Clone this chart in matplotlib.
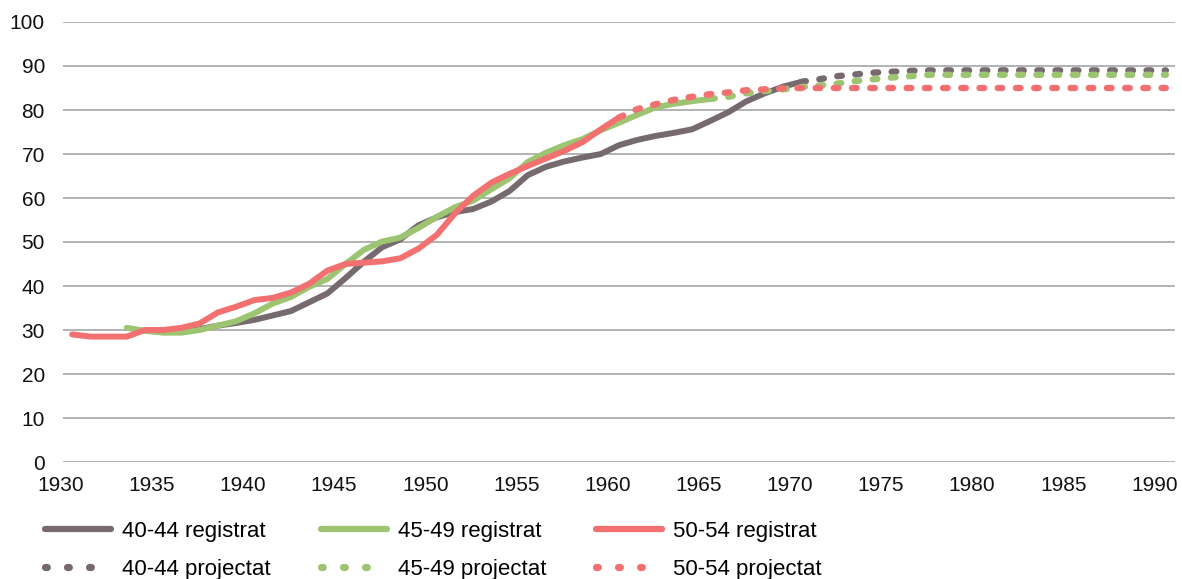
import matplotlib
matplotlib.use("Agg")
import matplotlib.pyplot as plt
import matplotlib.transforms as mtransforms
from matplotlib.lines import Line2D

plt.rcParams['font.family'] = ['Liberation Sans', 'DejaVu Sans']

# 40-44
years_4044_reg = list(range(1935, 1971))
vals_4044_reg = [29.6, 29.8, 30.2, 31.0, 31.6, 32.3, 33.3, 34.3, 36.3, 38.3,
                 41.8, 45.5, 48.8, 50.6, 53.8, 55.6, 56.8, 57.5, 59.2, 61.6,
                 65.2, 67.1, 68.3, 69.2, 70.0, 72.0, 73.2, 74.1, 74.8, 75.6,
                 77.5, 79.5, 82.0, 83.8, 85.3, 86.4]
years_4044_proj = list(range(1970, 1991))
vals_4044_proj = [86.4, 87.0, 87.7, 88.1, 88.5, 88.7, 88.9] + [89.0] * 14

# 45-49
years_4549_reg = list(range(1933, 1966))
vals_4549_reg = [30.5, 29.8, 29.4, 29.4, 30.0, 31.0, 32.0, 33.8, 36.0, 37.5,
                 39.8, 41.6, 45.0, 48.2, 50.1, 51.0, 53.2, 55.7, 57.9, 59.4,
                 62.0, 64.5, 68.2, 70.3, 72.0, 73.4, 75.4, 77.1, 78.9, 80.6,
                 81.4, 82.0, 82.5]
years_4549_proj = list(range(1965, 1991))
vals_4549_proj = [82.5, 83.0, 83.8, 84.3, 84.7, 85.2, 85.6, 86.0, 86.6, 87.0,
                  87.4, 87.7] + [88.0] * 14

# 50-54
years_5054_reg = list(range(1930, 1961))
vals_5054_reg = [29.0, 28.5, 28.5, 28.5, 30.0, 30.0, 30.5, 31.5, 34.0, 35.3,
                 36.8, 37.3, 38.5, 40.5, 43.5, 45.0, 45.3, 45.6, 46.3, 48.5,
                 51.6, 56.5, 60.5, 63.5, 65.5, 67.3, 69.0, 70.7, 72.7, 75.6,
                 78.3]
years_5054_proj = list(range(1960, 1991))
vals_5054_proj = [78.3, 80.2, 81.3, 82.3, 83.0, 83.6, 84.0, 84.5, 84.7, 84.9] + [85.0] * 21

labels_reg = ["40-44 registrat", "45-49 registrat", "50-54 registrat"]
labels_proj = ["40-44 projectat", "45-49 projectat", "50-54 projectat"]
colors = ["#766A6E", "#9DC470", "#F27070"]
xtick_years = list(range(1930, 1991, 5))

fig = plt.figure(figsize=(11.82, 5.79), dpi=100)
ax = fig.add_axes([63 / 1182, 1 - 462 / 579, 1112 / 1182, 440 / 579])

reg = [(years_4044_reg, vals_4044_reg), (years_4549_reg, vals_4549_reg), (years_5054_reg, vals_5054_reg)]
proj = [(years_4044_proj, vals_4044_proj), (years_4549_proj, vals_4549_proj), (years_5054_proj, vals_5054_proj)]

lw = 4.3
plw = 4.6
for (x, y), c in zip(reg, colors):
    ax.plot(x, y, color=c, lw=lw, solid_capstyle='round', solid_joinstyle='round')
for (x, y), c in zip(proj, colors):
    ax.plot(x, y, color=c, lw=plw, dashes=(0.72, 2.13), dash_capstyle='round')

ax.set_xlim(1929.5, 1990.5)
ax.set_ylim(0, 100)
ax.set_yticks(range(0, 101, 10))
ax.set_xticks(xtick_years)
ax.grid(axis='y', color='#A6A6A6', lw=1.2)
ax.set_axisbelow(True)
for s in ax.spines.values():
    s.set_visible(False)
ax.tick_params(axis='both', length=0, labelsize=15, colors='#111111')
ax.tick_params(axis='y', pad=13)
ax.tick_params(axis='x', pad=10)

# excel puts the year labels a bit left of the points
shift = mtransforms.ScaledTranslation(-0.115, 0, fig.dpi_scale_trans)
for lab in ax.get_xticklabels():
    lab.set_transform(lab.get_transform() + shift)

handles = []
names = []
for i in range(3):
    handles.append(Line2D([], [], color=colors[i], lw=4.5, solid_capstyle='round'))
    names.append(labels_reg[i])
    handles.append(Line2D([], [], color=colors[i], lw=5.2, dashes=(0.25, 2.8), dash_capstyle='round'))
    names.append(labels_proj[i])

fig.legend(handles, names, ncol=3, loc='upper left', bbox_to_anchor=(45 / 1182, 1 - 521 / 579),
           frameon=False, fontsize=16, handlelength=2.97, handletextpad=0.5,
           columnspacing=2.25, labelspacing=0.75, borderpad=0, borderaxespad=0)

fig.savefig("out.png", dpi=100)
